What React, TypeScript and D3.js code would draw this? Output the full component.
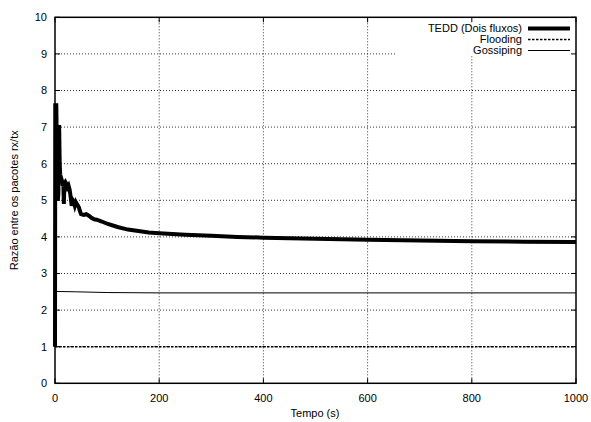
import React from "react";
import * as d3 from "d3";

const W = 591;
const H = 422;

const xTicks = [0, 200, 400, 600, 800, 1000];
const yTicks = [0, 1, 2, 3, 4, 5, 6, 7, 8, 9, 10];

const teddTime = [0, 0.5, 2.5, 3, 5, 5.5, 6.5, 7, 8, 9, 10, 12, 14, 15, 16, 17, 18, 20, 22, 24, 26, 28, 30, 32, 34, 36, 38, 40, 42, 44, 46, 48, 50, 55, 60, 65, 70, 75, 80, 90, 100, 120, 140, 160, 180, 200, 250, 300, 350, 400, 500, 600, 700, 800, 900, 1000];
const teddValue = [1.0, 7.6, 7.6, 7.05, 7.0, 5.0, 5.2, 7.0, 7.0, 6.0, 5.7, 5.6, 5.5, 5.4, 5.45, 4.9, 5.45, 5.5, 5.45, 5.35, 5.4, 5.3, 5.1, 4.85, 5.0, 4.95, 4.85, 4.95, 4.9, 4.85, 4.8, 4.7, 4.62, 4.6, 4.62, 4.58, 4.52, 4.48, 4.47, 4.42, 4.36, 4.27, 4.2, 4.16, 4.12, 4.1, 4.06, 4.03, 4.0, 3.98, 3.95, 3.92, 3.9, 3.88, 3.87, 3.86];

const floodTime = [0, 1000];
const floodValue = [1.0, 1.0];

const gossipTime = [0, 40, 100, 200, 1000];
const gossipValue = [2.51, 2.5, 2.48, 2.47, 2.47];

const legendLabels = ["TEDD (Dois fluxos)", "Flooding", "Gossiping"];

const FONT = "'Liberation Sans', Arial, Helvetica, sans-serif";

export default function App() {
  const left = 55, right = 576, top = 17.3, bottom = 383.3;
  const x = d3.scaleLinear().domain([0, 1000]).range([left, right]);
  const y = d3.scaleLinear().domain([0, 10]).range([bottom, top]);

  const line = d3.line<[number, number]>().x(d => x(d[0])).y(d => y(d[1]));
  const tedd = line(teddTime.map((t, i) => [t, teddValue[i]]))!;
  const flood = line(floodTime.map((t, i) => [t, floodValue[i]]))!;
  const gossip = line(gossipTime.map((t, i) => [t, gossipValue[i]]))!;

  const tick = 5;
  const legendRows = [28.5, 39.5, 50.5];
  const legTextX = 522;
  const legLine = [528, 570];

  return (
    <svg width={W} height={H} style={{ position: "absolute", left: 0, top: 0, background: "#fff" }} fontFamily={FONT}>
      <rect x={0} y={0} width={W} height={H} fill="#fff" />
      {yTicks.filter(v => v > 0 && v < 10).map(v => (
        <line key={"gy" + v} x1={left} x2={right} y1={y(v)} y2={y(v)} stroke="#000" strokeWidth={0.8} strokeDasharray="1,2" />
      ))}
      {xTicks.filter(v => v > 0 && v < 1000).map(v => (
        <line key={"gx" + v} x1={x(v)} x2={x(v)} y1={top} y2={bottom} stroke="#000" strokeWidth={0.8} strokeDasharray="1,2" />
      ))}
      <rect x={397} y={top} width={right - 397} height={56 - top} fill="#fff" />
      {yTicks.map(v => (
        <g key={"ty" + v}>
          <line x1={left} x2={left + tick} y1={y(v)} y2={y(v)} stroke="#000" strokeWidth={1} />
          <line x1={right} x2={right - tick} y1={y(v)} y2={y(v)} stroke="#000" strokeWidth={1} />
          <text x={47} y={y(v)} dy="0.35em" textAnchor="end" fontSize={11} fill="#000">{v}</text>
        </g>
      ))}
      {xTicks.map(v => (
        <g key={"tx" + v}>
          <line x1={x(v)} x2={x(v)} y1={bottom} y2={bottom - tick} stroke="#000" strokeWidth={1} />
          <line x1={x(v)} x2={x(v)} y1={top} y2={top + tick} stroke="#000" strokeWidth={1} />
          <text x={x(v)} y={398} dy="0.35em" textAnchor="middle" fontSize={11} fill="#000">{v}</text>
        </g>
      ))}
      <path d={flood} fill="none" stroke="#000" strokeWidth={1.5} strokeDasharray="2.5,1.5" />
      <path d={gossip} fill="none" stroke="#000" strokeWidth={1} />
      <path d={tedd} fill="none" stroke="#000" strokeWidth={4} strokeLinejoin="miter" />
      <rect x={left} y={top} width={right - left} height={bottom - top} fill="none" stroke="#000" strokeWidth={1.5} />
      {legendLabels.map((lab, i) => (
        <g key={lab}>
          <text x={legTextX} y={legendRows[i]} dy="0.35em" textAnchor="end" fontSize={11} fill="#000">{lab}</text>
          <line x1={legLine[0]} x2={legLine[1]} y1={legendRows[i]} y2={legendRows[i]} stroke="#000"
            strokeWidth={i === 0 ? 4 : i === 1 ? 1.5 : 1} strokeDasharray={i === 1 ? "2.5,1.5" : undefined} />
        </g>
      ))}
      <text x={315} y={413} dy="0.35em" textAnchor="middle" fontSize={11} fill="#000">Tempo (s)</text>
      <text transform={`translate(14,${(top + bottom) / 2}) rotate(-90)`} dy="0.35em" textAnchor="middle" fontSize={11} fill="#000">Razão entre os pacotes rx/tx</text>
    </svg>
  );
}
